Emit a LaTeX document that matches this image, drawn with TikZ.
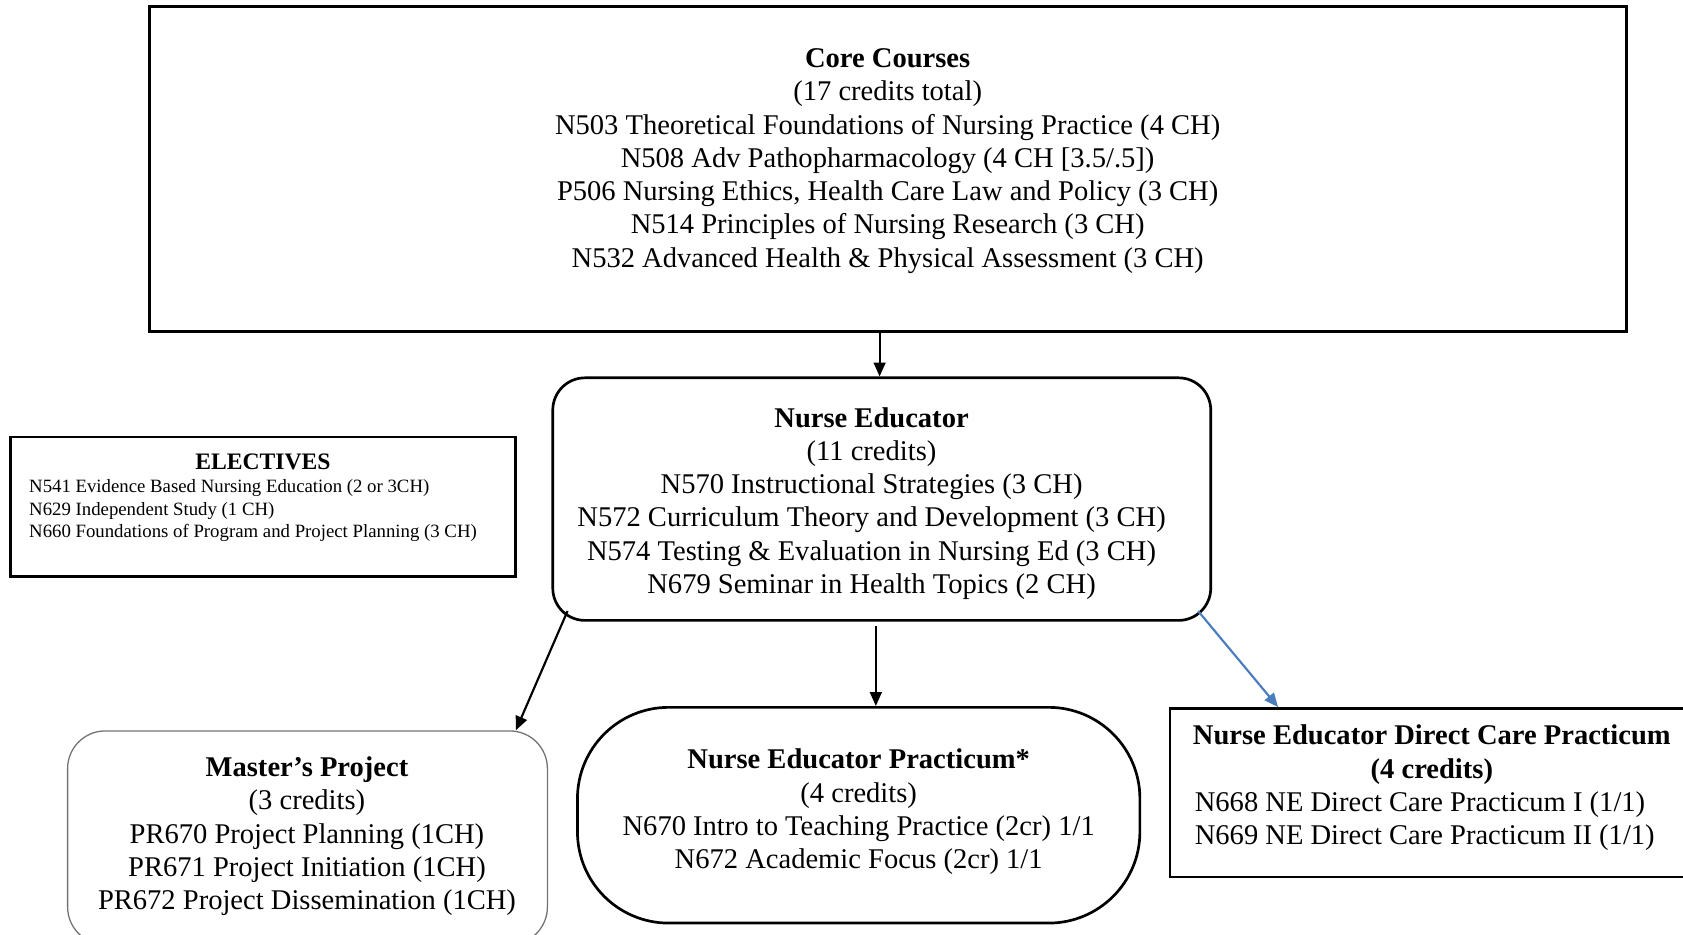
\documentclass[tikz,border=0pt]{standalone}
\usepackage{fontspec}
\setmainfont{Liberation Serif}
\usetikzlibrary{arrows.meta,calc}

\newlength{\du}
\setlength{\du}{1pt}

\definecolor{dialinecolor}{rgb}{0.000000, 0.000000, 0.000000}
\definecolor{linkblue}{rgb}{0.290000, 0.490000, 0.740000}
\definecolor{thingray}{rgb}{0.450000, 0.450000, 0.450000}

\tikzset{
  coursebox/.style={draw=dialinecolor, line width=2.5\du, inner sep=0pt},
  bigtext/.style={font=\fontsize{26.6}{31}\selectfont, align=center, inner sep=0pt},
  smalltext/.style={font=\fontsize{17.5}{21}\selectfont, align=left, inner sep=0pt},
  link/.style={draw=dialinecolor, line width=2\du, -{Triangle[length=13pt,width=11pt]}},
}

\begin{document}
\begin{tikzpicture}
\pgftransformyscale{-1.000000}
\useasboundingbox (0\du,0\du) rectangle (1568\du,871\du);
% core courses
\node[coursebox, line width=3\du, minimum width=1376\du, minimum height=303\du] (core) at (827\du,157.5\du) {};
\node[bigtext] (coretxt) at (827\du,150\du) {\textbf{Core Courses}\\(17 credits total)\\N503 Theoretical Foundations of Nursing Practice (4 CH)\\N508 Adv Pathopharmacology (4 CH [3.5/.5])\\P506 Nursing Ethics, Health Care Law and Policy (3 CH)\\N514 Principles of Nursing Research (3 CH)\\N532 Advanced Health \& Physical Assessment (3 CH)};
% nurse educator
\node[coursebox, rounded corners=30\du, minimum width=613\du, minimum height=226\du] (ne) at (821.5\du,465\du) {};
\node[bigtext] (netxt) at (812\du,469\du) {\textbf{Nurse Educator}\\(11 credits)\\N570 Instructional Strategies (3 CH)\\N572 Curriculum Theory and Development (3 CH)\\N574 Testing \& Evaluation in Nursing Ed (3 CH)\\N679 Seminar in Health Topics (2 CH)};
% electives
\node[coursebox, minimum width=470\du, minimum height=130\du] (elec) at (245\du,472\du) {};
\node[font=\fontsize{22}{26}\selectfont\bfseries, inner sep=0pt] (electitle) at (245\du,430\du) {ELECTIVES};
\node[smalltext, anchor=west] (electxt) at (27\du,476\du) {N541 Evidence Based Nursing Education (2 or 3CH)\\N629 Independent Study (1 CH)\\N660 Foundations of Program and Project Planning (3 CH)};
% master's project
\node[draw=thingray, line width=1.2\du, rounded corners=35\du, inner sep=0pt, minimum width=447\du, minimum height=199\du] (mp) at (286.5\du,780.5\du) {};
\node[bigtext] (mptxt) at (286\du,779\du) {\textbf{Master’s Project}\\(3 credits)\\PR670 Project Planning (1CH)\\PR671 Project Initiation (1CH)\\PR672 Project Dissemination (1CH)};
% practicum
\node[coursebox, rounded corners=85\du, minimum width=524\du, minimum height=201\du] (nep) at (800\du,759.5\du) {};
\node[bigtext] (neptxt) at (800\du,756.5\du) {\textbf{Nurse Educator Practicum*}\\(4 credits)\\N670 Intro to Teaching Practice (2cr) 1/1\\N672 Academic Focus (2cr) 1/1};
% direct care practicum
\node[coursebox, minimum width=485\du, minimum height=157\du] (dcp) at (1332.5\du,738.5\du) {};
\node[bigtext, font=\fontsize{26.6}{31}\selectfont\bfseries] (dcptitle) at (1334\du,703\du) {Nurse Educator Direct Care Practicum\\(4 credits)};
\node[bigtext, align=left, anchor=west] (dcptxt) at (1113\du,765\du) {N668 NE Direct Care Practicum I (1/1)\\N669 NE Direct Care Practicum II (1/1)};
% arrows
\draw[link] ($(ne.north |- core.south)+(-2\du,0\du)$) -- ($(ne.north)+(-2\du,0\du)$);
\draw[link] ($(ne.south west)+(15\du,-10\du)$) -- ($(mp.north east)+(-30\du,0\du)$);
\draw[link] ($(nep.north |- ne.south)+(16\du,4\du)$) -- ($(nep.north)+(16\du,0\du)$);
\draw[link, draw=linkblue, -{Triangle[length=13pt,width=11pt,fill=linkblue]}] ($(ne.south east)+(-13\du,-10\du)$) -- ($(dcp.north west)+(102\du,0\du)$);
\end{tikzpicture}
\end{document}
